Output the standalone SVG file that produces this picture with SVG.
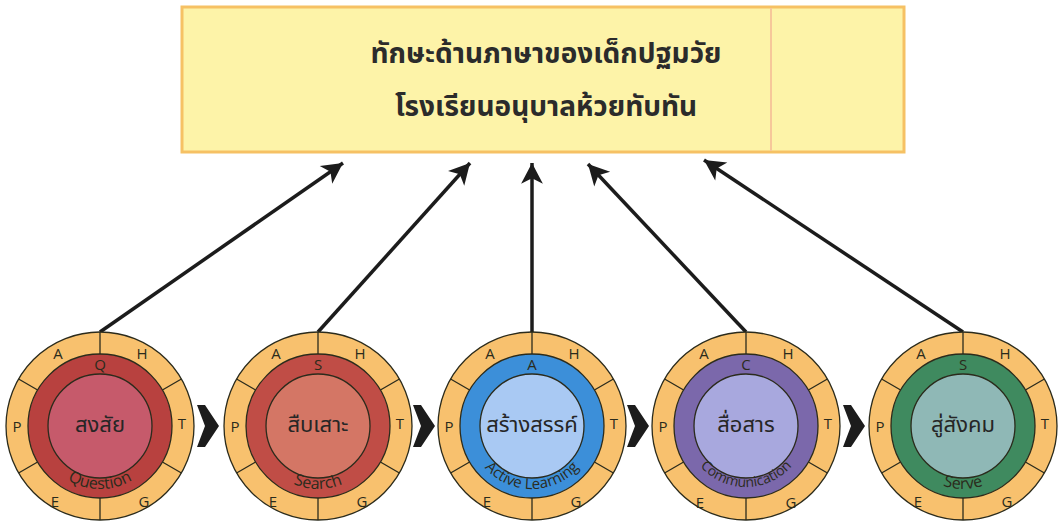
<svg xmlns="http://www.w3.org/2000/svg" xmlns:xlink="http://www.w3.org/1999/xlink" width="1061" height="524" viewBox="0 0 1061 524">
<style>
.outer{fill:#f8c16e;stroke:#2b2b1c;stroke-width:1.3}
.ln{stroke:#2b2b1c;stroke-width:1.3;fill:none}
.lt{font-family:"Open Sans","DejaVu Sans",sans-serif;font-size:15px;fill:#2b2b1c;text-anchor:middle;dominant-baseline:central}
.arc{font-family:"Open Sans","DejaVu Sans",sans-serif;font-size:16px;fill:#2b2b1c;text-anchor:middle}
.arcs{font-size:15px}
.arcxs{font-size:14px}
.th{font-family:"Noto Sans Thai","Noto Sans","DejaVu Sans",sans-serif;font-size:22px;fill:#262626;text-anchor:middle;dominant-baseline:central}
.title{font-family:"Noto Sans Thai","Noto Sans","DejaVu Sans",sans-serif;font-size:28px;font-weight:bold;fill:#2b2b2b;text-anchor:middle}
.conn{stroke:#1c1c1c;stroke-width:3.5;fill:none;marker-end:url(#ah)}
.chev{fill:#1c1c1c}
</style>
<defs>
<marker id="ah" markerUnits="userSpaceOnUse" markerWidth="24" markerHeight="24" viewBox="-20 -11 22 22" refX="0" refY="0" orient="auto">
<path d="M0,0 L-19,-10 L-14,0 L-19,10 Z" fill="#1c1c1c"/>
</marker>
<g id="segs">
<circle class="outer" r="94"/>
<path class="ln" d="M0,-72 V-94 M0,72 V94 M62.4,-36 L81.4,-47 M62.4,36 L81.4,47 M-62.4,-36 L-81.4,-47 M-62.4,36 L-81.4,47"/>
</g>
<path id="arcp" d="M-63,0 A63 63 0 0 0 63,0"/>
<path id="arcq" d="M-61,0 A61 61 0 0 0 61,0"/>
<polygon id="chv" points="-11,-21 -3,-21 11,0 -3,21 -11,21 -3,0"/>
</defs>

<g id="title-box">
<rect x="182" y="7" width="722" height="145" fill="#fdf3a8" stroke="#f6c164" stroke-width="3"/>
<line x1="771" y1="8" x2="771" y2="151" stroke="#f6c79a" stroke-width="2"/>
<text class="title" x="546" y="63">ทักษะด้านภาษาของเด็กปฐมวัย</text>
<text class="title" x="546" y="116">โรงเรียนอนุบาลห้วยทับทัน</text>
</g>

<g id="connectors">
<line class="conn" x1="100" y1="332" x2="343" y2="163"/>
<line class="conn" x1="318" y1="332" x2="470" y2="163"/>
<line class="conn" x1="532" y1="332" x2="532" y2="163"/>
<line class="conn" x1="746" y1="332" x2="588" y2="164"/>
<line class="conn" x1="963" y1="332" x2="704" y2="160"/>
<use href="#chv" class="chev" x="208" y="426"/>
<use href="#chv" class="chev" x="424" y="426"/>
<use href="#chv" class="chev" x="638" y="426"/>
<use href="#chv" class="chev" x="854" y="426"/>
</g>

<g id="node-question" transform="translate(100,426)">
<use href="#segs"/>
<circle r="72" fill="#b8413f" stroke="#2b2b1c" stroke-width="1.3"/>
<circle r="52" fill="#c65a6b" stroke="#2b2b1c" stroke-width="1.3"/>
<text class="lt" x="-42" y="-73">A</text><text class="lt" x="42" y="-73">H</text>
<text class="lt" x="82" y="-3">T</text><text class="lt" x="44" y="75">G</text>
<text class="lt" x="-45" y="75">E</text><text class="lt" x="-83" y="0">P</text>
<text class="lt" x="0" y="-62">Q</text>
<text class="arc"><textPath href="#arcp" startOffset="50%">Question</textPath></text>
<text class="th" x="0" y="-1">สงสัย</text>
</g>

<g id="node-search" transform="translate(318,426)">
<use href="#segs"/>
<circle r="72" fill="#c04d46" stroke="#2b2b1c" stroke-width="1.3"/>
<circle r="52" fill="#d47665" stroke="#2b2b1c" stroke-width="1.3"/>
<text class="lt" x="-42" y="-73">A</text><text class="lt" x="42" y="-73">H</text>
<text class="lt" x="82" y="-3">T</text><text class="lt" x="44" y="75">G</text>
<text class="lt" x="-45" y="75">E</text><text class="lt" x="-83" y="0">P</text>
<text class="lt" x="0" y="-62">S</text>
<text class="arc"><textPath href="#arcp" startOffset="50%">Search</textPath></text>
<text class="th" x="0" y="-1">สืบเสาะ</text>
</g>

<g id="node-active" transform="translate(532,426)">
<use href="#segs"/>
<circle r="72" fill="#3c8fd9" stroke="#2b2b1c" stroke-width="1.3"/>
<circle r="52" fill="#a9c9f3" stroke="#2b2b1c" stroke-width="1.3"/>
<text class="lt" x="-42" y="-73">A</text><text class="lt" x="42" y="-73">H</text>
<text class="lt" x="82" y="-3">T</text><text class="lt" x="44" y="75">G</text>
<text class="lt" x="-45" y="75">E</text><text class="lt" x="-83" y="0">P</text>
<text class="lt" x="0" y="-62">A</text>
<text class="arc arcs"><textPath href="#arcp" startOffset="50%">Active Learning</textPath></text>
<text class="th" x="0" y="-1">สร้างสรรค์</text>
</g>

<g id="node-communication" transform="translate(746,426)">
<use href="#segs"/>
<circle r="72" fill="#7b68ab" stroke="#2b2b1c" stroke-width="1.3"/>
<circle r="52" fill="#a8a8de" stroke="#2b2b1c" stroke-width="1.3"/>
<text class="lt" x="-42" y="-73">A</text><text class="lt" x="42" y="-73">H</text>
<text class="lt" x="82" y="-3">T</text><text class="lt" x="45" y="76">G</text>
<text class="lt" x="-46" y="76">E</text><text class="lt" x="-83" y="0">P</text>
<text class="lt" x="0" y="-62">C</text>
<text class="arc arcxs"><textPath href="#arcq" startOffset="50%">Communication</textPath></text>
<text class="th" x="0" y="-1">สื่อสาร</text>
</g>

<g id="node-serve" transform="translate(963,426)">
<use href="#segs"/>
<circle r="72" fill="#3f8a5f" stroke="#2b2b1c" stroke-width="1.3"/>
<circle r="52" fill="#8fb8b6" stroke="#2b2b1c" stroke-width="1.3"/>
<text class="lt" x="-42" y="-73">A</text><text class="lt" x="42" y="-73">H</text>
<text class="lt" x="82" y="-3">T</text><text class="lt" x="44" y="75">G</text>
<text class="lt" x="-45" y="75">E</text><text class="lt" x="-83" y="0">P</text>
<text class="lt" x="0" y="-62">S</text>
<text class="arc"><textPath href="#arcp" startOffset="50%">Serve</textPath></text>
<text class="th" x="0" y="-1">สู่สังคม</text>
</g>
</svg>
